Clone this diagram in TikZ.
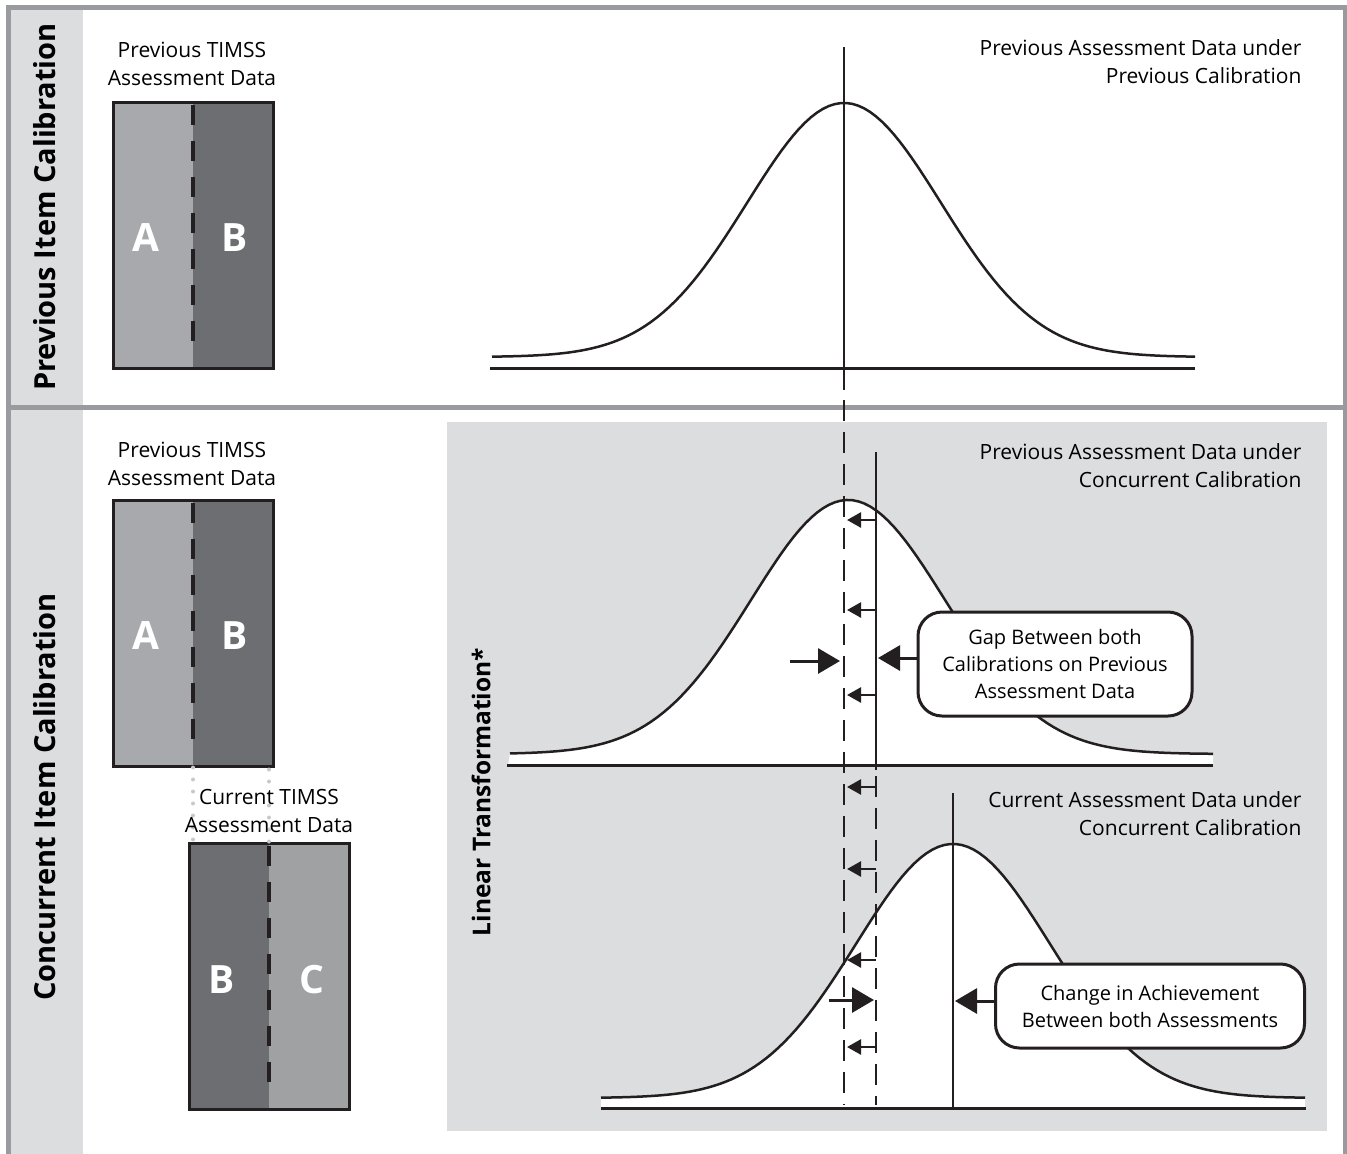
\documentclass[tikz,border=0pt]{standalone}
\usepackage{fontspec}
\setmainfont{Open Sans}
\usetikzlibrary{arrows.meta,positioning}

\definecolor{frameGray}{HTML}{9A9B9F}
\definecolor{paneGray}{HTML}{DCDDDF}
\definecolor{lightBlock}{HTML}{A7A9AC}
\definecolor{darkBlock}{HTML}{6D6E71}
\definecolor{dotGray}{HTML}{C7C8CA}
\definecolor{ink}{HTML}{231F20}

\tikzset{
  frameline/.style={frameGray, line width=5pt},
  sidelabel/.style={rotate=90, font=\bfseries\fontsize{29}{33}\selectfont},
  caption/.style={align=center, font=\fontsize{21}{28}\selectfont},
  curvelabel/.style={align=right, anchor=east, font=\fontsize{21}{28}\selectfont},
  block/.style 2 args={draw=ink, line width=3pt, inner sep=0pt,
    minimum width=160pt, minimum height=266pt,
    path picture={
      \fill[#1] (path picture bounding box.south west) rectangle (path picture bounding box.north);
      \fill[#2] (path picture bounding box.north) rectangle (path picture bounding box.south east);
    }},
  blockdash/.style={ink, line width=4pt, dash pattern=on 20pt off 16pt},
  blockletter/.style={white, font=\bfseries\fontsize{39}{39}\selectfont},
  dotline/.style={dotGray, line width=4pt, line cap=round, dash pattern=on 0pt off 12pt},
  curve/.style={ink, line width=2.5pt},
  axis/.style={ink, line width=3pt},
  meanline/.style={ink, line width=2.8pt},
  shiftline/.style={ink, line width=2.5pt, dash pattern=on 21pt off 11pt},
  smallarrow/.style={ink, line width=2.5pt, -{Triangle[length=14pt,width=15pt]}},
  bigarrow/.style={ink, line width=3pt, -{Triangle[length=22pt,width=25pt]}},
  callout/.style={draw=ink, fill=white, line width=3pt, rounded corners=24pt,
    align=center, font=\fontsize{20}{27}\selectfont},
}

\begin{document}
\begin{tikzpicture}[x=1pt, y=-1pt]
\useasboundingbox (0,0) rectangle (1347,1154);

% side column and frame
\fill[paneGray] (10,8) rectangle (83,1154);
\fill[paneGray] (447,422) rectangle (1327,1131);
\draw[frameline] (8,1154) -- (8,7) -- (1345,7) -- (1345,1154);
\draw[frameline] (8,407) -- (1345,407);

\node[sidelabel] (prevcal) at (45,207) {Previous Item Calibration};
\node[sidelabel] (conccal) at (45,797) {Concurrent Item Calibration};
\node[sidelabel, font=\bfseries\fontsize{24.5}{28}\selectfont] (lintrans) at (481,792) {Linear Transformation*};

% data blocks
\node[caption] (prevcapA) at (192,64) {Previous TIMSS\\Assessment Data};
\node[block={lightBlock}{darkBlock}] (prevA) at (193,235) {};
\draw[blockdash] ([yshift=-4pt]prevA.north) -- ([yshift=18pt]prevA.south);
\node[blockletter] at (146,238) {A};
\node[blockletter] at (235,238) {B};

\node[caption] (prevcapB) at (192,464) {Previous TIMSS\\Assessment Data};
\node[block={lightBlock}{darkBlock}] (prevB) at (193,633) {};
\draw[blockdash] ([yshift=-4pt]prevB.north) -- ([yshift=18pt]prevB.south);
\node[blockletter] at (146,636) {A};
\node[blockletter] at (235,636) {B};

\node[block={darkBlock}{lightBlock!95!black}] (curr) at (269,976) {};
\draw[blockdash] ([yshift=-4pt]curr.north) -- ([yshift=18pt]curr.south);
\node[blockletter] at (222,980) {B};
\node[blockletter] at (312,980) {C};
\draw[dotline] (prevB.south) -- (prevB.south |- curr.north);
\draw[dotline] (curr.north) -- (curr.north |- prevB.south);
\node[caption] (currcap) at (269,811) {Current TIMSS\\Assessment Data};

% previous calibration
\node[curvelabel] (lblOne) at (1305,62) {Previous Assessment Data under\\Previous Calibration};
\draw[curve] plot[domain=492:1195, samples=120] (\x, {357-254*exp(-((\x-844)/97)^2/2)});
\draw[axis] (490,368) -- (1195,368);
\draw[meanline] (844,47) -- (844,390);

% concurrent calibration, previous data
\node[curvelabel] (lblTwo) at (1305,466) {Previous Assessment Data under\\Concurrent Calibration};
\fill[white] plot[domain=510:1213, samples=120] (\x, {754-254*exp(-((\x-848)/97)^2/2)}) -- (1213,765) -- (508,765) -- cycle;
\draw[curve] plot[domain=510:1213, samples=120] (\x, {754-254*exp(-((\x-848)/97)^2/2)});
\draw[axis] (507,765) -- (1213,765);

% concurrent calibration, current data
\node[curvelabel] (lblThree) at (1305,814) {Current Assessment Data under\\Concurrent Calibration};
\fill[white] plot[domain=601:1305, samples=120] (\x, {1098-254*exp(-((\x-953)/97)^2/2)}) -- (1305,1108) -- (601,1108) -- cycle;
\draw[curve] plot[domain=601:1305, samples=120] (\x, {1098-254*exp(-((\x-953)/97)^2/2)});
\draw[axis] (601,1108) -- (1306,1108);
\draw[meanline] (953,793) -- (953,1108);

% shifted means
\coordinate (oldmean) at (844,400);
\coordinate (newmean) at (876,452);
\draw[shiftline] (oldmean) -- (844,1105);
\draw[meanline] (newmean) -- (876,770);
\draw[shiftline] (876,776) -- (876,1105);
\foreach \y in {520,610,695,787,869,960,1047}
  \draw[smallarrow] (876,\y) -- (847,\y);
\draw[bigarrow] (790,661) -- (840,661);
\draw[bigarrow] (829,1000) -- (874,1000);

% callouts
\node[callout, minimum width=274pt, minimum height=104pt] (gap) at (1055,664) {Gap Between both\\Calibrations on Previous\\Assessment Data};
\node[callout, minimum width=309pt, minimum height=84pt] (change) at (1150,1006) {Change in Achievement\\Between both Assessments};
\draw[bigarrow] (gap.west) ++(0,-6) -- (878,658);
\draw[bigarrow] (change.west) ++(0,-5) -- (955,1001);
\end{tikzpicture}
\end{document}
